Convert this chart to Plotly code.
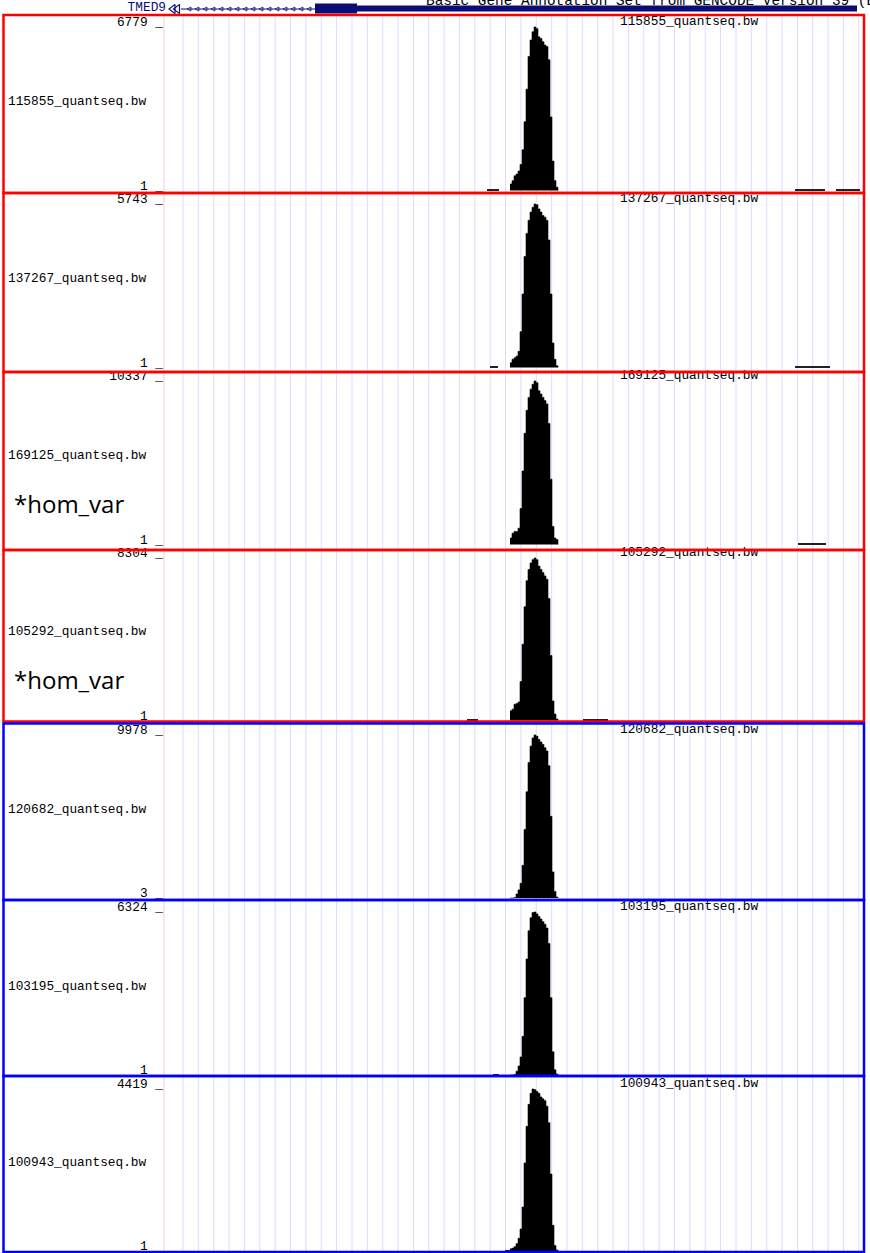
import numpy as np
import plotly.graph_objects as go

# ---------------------------------------------------------------- data
W, H = 870, 1253
REGION_END = 6950          # bp offset spanned by the data area
BIN_START, BIN_SIZE = 3450, 20

track_names = [
    "115855_quantseq.bw", "137267_quantseq.bw", "169125_quantseq.bw",
    "105292_quantseq.bw", "120682_quantseq.bw", "103195_quantseq.bw",
    "100943_quantseq.bw",
]
track_max = [6779, 5743, 10337, 8304, 9978, 6324, 4419]
track_min = [1, 1, 1, 1, 3, 1, 1]
track_group = ["red", "red", "red", "red", "blue", "blue", "blue"]
track_note = [None, None, "*hom_var", "*hom_var", None, None, None]

# coverage per 20 bp bin from BIN_START
cov_115855 = [270, 410, 610, 680, 810, 1080, 1690, 2850, 4200, 5560, 6240, 6580,
              6779, 6710, 6370, 6300, 6170, 6030, 5970, 5420, 3050, 1220, 410, 140]
cov_137267 = [170, 290, 340, 400, 570, 1260, 2580, 3900, 4710, 5170, 5460, 5630,
              5743, 5720, 5570, 5460, 5340, 5280, 5170, 4480, 2580, 860, 290, 60]
cov_169125 = [410, 720, 830, 830, 1030, 2270, 4650, 7030, 8480, 9300, 9820, 10130,
              10337, 10230, 9720, 9510, 9300, 9100, 8890, 7650, 4130, 1140, 410, 310]
cov_105292 = [500, 580, 830, 870, 950, 1990, 3900, 5810, 7140, 7720, 8050, 8220,
              8304, 8220, 7890, 7720, 7560, 7390, 7220, 6230, 3320, 1000, 330, 80]
cov_120682 = [0, 0, 30, 250, 500, 900, 2000, 4200, 6500, 8300, 9300, 9800,
              9978, 9900, 9700, 9550, 9400, 9200, 9000, 8100, 5000, 1600, 400, 60]
cov_103195 = [0, 0, 20, 150, 350, 700, 1500, 3000, 4500, 5600, 6100, 6300,
              6324, 6250, 6150, 6050, 5950, 5850, 5700, 5100, 3000, 900, 200, 40]
cov_100943 = [60, 80, 120, 200, 350, 600, 1200, 2400, 3400, 4000, 4300, 4419,
              4400, 4350, 4300, 4200, 4150, 4100, 3950, 3500, 2100, 700, 150, 30]
coverage = [cov_115855, cov_137267, cov_169125, cov_105292,
            cov_120682, cov_103195, cov_100943]

# scattered low-level signal: (start, end, value)
low_signal = [
    [(3220, 3340, 60), (6300, 6600, 50), (6710, 6950, 50)],
    [(3250, 3330, 50), (6300, 6650, 45)],
    [(6330, 6610, 80)],
    [(3020, 3130, 60), (4180, 4430, 60)],
    [],
    [(3280, 3340, 40)],
    [(3400, 3450, 40)],
]

# TMED9 gene model (bp offsets, minus strand)
gene_name = "TMED9"
intron = (160, 1500)
cds = (1500, 1920)
utr = (1920, 6920)
header_text = "Basic Gene Annotation Set from GENCODE Version 39 (Ensembl 105)"

# ---------------------------------------------------------------- layout helpers
RED, BLUE = "#ff0000", "#0000ff"
GRID = "#dcdcff"
FONT = "Liberation Mono"

box_top = [15, 193, 372, 550, 722.5, 900, 1076]
box_bot = [193, 372, 550, 722.5, 900, 1076, 1252]
top_px = [27, 204, 381, 558, 735, 912, 1089]             # pixel row of track max
base_px = [190.5, 367.5, 544.5, 720.5, 898, 1075, 1251]  # pixel row of track min

grid_pos = 180 + 153.6 * np.arange(45)
X_DOMAIN = [165 / W, 860 / W]

fig = go.Figure()
layout = {}

for i in range(7):
    sfx = "" if i == 0 else str(i + 1)
    vals = coverage[i]
    edges = [BIN_START + BIN_SIZE * k for k in range(len(vals) + 1)]
    # main coverage as a stepped filled profile
    fig.add_trace(go.Scatter(
        x=edges, y=list(vals) + [0], mode="lines", line_shape="hv",
        line=dict(color="black", width=0.6), fill="tozeroy", fillcolor="black",
        xaxis="x" + sfx, yaxis="y" + sfx, showlegend=False, hoverinfo="skip",
    ))
    if low_signal[i]:
        fig.add_trace(go.Bar(
            x=[(s + e) / 2 for s, e, v in low_signal[i]],
            y=[v for s, e, v in low_signal[i]],
            width=[e - s for s, e, v in low_signal[i]],
            marker=dict(color="#202020", line=dict(width=0)),
            xaxis="x" + sfx, yaxis="y" + sfx, showlegend=False, hoverinfo="skip",
        ))
    vmin, vmax = track_min[i], track_max[i]
    scale = (vmax - vmin) / (top_px[i] - base_px[i])
    lo = vmin + (box_bot[i] - base_px[i]) * scale
    hi = vmin + (box_top[i] - base_px[i]) * scale
    layout["xaxis" + sfx] = dict(domain=X_DOMAIN, range=[0, REGION_END], visible=False)
    layout["yaxis" + sfx] = dict(
        domain=[1 - box_bot[i] / H, 1 - box_top[i] / H], range=[lo, hi],
        visible=False,
    )

# gene track
NAVY = "#0c0c78"
gx, gy = "x8", "y8"
fig.add_trace(go.Scatter(x=list(intron), y=[9, 9], mode="lines",
                         line=dict(color=NAVY, width=1), xaxis=gx, yaxis=gy,
                         showlegend=False, hoverinfo="skip"))
arrow_x = list(np.arange(intron[0] + 60, intron[1], 80))
fig.add_trace(go.Scatter(x=arrow_x, y=[9] * len(arrow_x), mode="markers",
                         marker=dict(symbol="arrow-left-open", size=4, color=NAVY,
                                     line=dict(width=0.8, color=NAVY)),
                         xaxis=gx, yaxis=gy, showlegend=False, hoverinfo="skip",
                         cliponaxis=False))
fig.add_trace(go.Scatter(x=[80, 125], y=[9, 9], mode="markers",
                         marker=dict(symbol="triangle-left-open", size=8, color=NAVY,
                                     line=dict(width=1.2, color=NAVY)),
                         xaxis=gx, yaxis=gy, showlegend=False, hoverinfo="skip",
                         cliponaxis=False))
fig.add_trace(go.Scatter(x=list(utr), y=[8.5, 8.5], mode="lines",
                         line=dict(color=NAVY, width=6), xaxis=gx, yaxis=gy,
                         showlegend=False, hoverinfo="skip"))
fig.add_trace(go.Scatter(x=list(cds), y=[8.5, 8.5], mode="lines",
                         line=dict(color=NAVY, width=10), xaxis=gx, yaxis=gy,
                         showlegend=False, hoverinfo="skip"))
layout["xaxis8"] = dict(domain=X_DOMAIN, range=[0, REGION_END], visible=False)
layout["yaxis8"] = dict(domain=[1 - 15 / H, 1], range=[15, 0], visible=False)

# text layer in pixel space
tx, ty = "x9", "y9"
layout["xaxis9"] = dict(domain=[0, 1], range=[0, W], visible=False)
layout["yaxis9"] = dict(domain=[0, 1], range=[H, 0], visible=False)


def add_text(xv, yv, texts, pos, size=12.8, color="black", family=FONT):
    fig.add_trace(go.Scatter(
        x=xv, y=yv, text=texts, mode="text", textposition=pos,
        textfont=dict(family=family, size=size, color=color),
        xaxis=tx, yaxis=ty, showlegend=False, hoverinfo="skip", cliponaxis=False,
    ))


add_text([8] * 7, [(t + b) / 2 - 7 for t, b in zip(top_px, base_px)],
         track_names, "middle right")
add_text([620] * 7, [t - 5 for t in top_px], track_names, "middle right")
add_text([163] * 7, [t - 4 for t in top_px], [f"{v} _" for v in track_max], "middle left")
add_text([163] * 7, [b - 4 for b in base_px], [f"{v} _" for v in track_min], "middle left")
note_idx = [i for i, n in enumerate(track_note) if n]
add_text([14] * len(note_idx), [base_px[i] - 38 for i in note_idx],
         [track_note[i] for i in note_idx], "middle right", size=24,
         family="Open Sans")
add_text([166], [8], [gene_name], "middle left", color=NAVY)
add_text([426], [1], [header_text], "middle right", size=14.4)

# base-position guide lines (kept beneath the coverage), left guide and frames
shapes = [dict(type="line", xref="x", yref="paper", x0=g, x1=g,
               y0=1 - 1252 / H, y1=1 - 15 / H, line=dict(color=GRID, width=1),
               layer="below") for g in grid_pos]
shapes.append(dict(type="line", xref="paper", yref="paper", x0=164 / W, x1=164 / W,
                   y0=1 - 1252 / H, y1=1 - 15 / H, line=dict(color="#ffc8c8", width=1),
                   layer="below"))
for i in range(7):
    col = RED if track_group[i] == "red" else BLUE
    t = box_top[i] + (1 if i == 4 else 0)
    b = box_bot[i] - (1 if i == 3 else 0)
    shapes.append(dict(type="rect", xref="paper", yref="paper",
                       x0=3.5 / W, x1=864 / W, y0=1 - b / H, y1=1 - t / H,
                       line=dict(color=col, width=2.5), fillcolor="rgba(0,0,0,0)",
                       layer="above"))

fig.update_layout(
    width=W, height=H, margin=dict(l=0, r=0, t=0, b=0),
    paper_bgcolor="white", plot_bgcolor="rgba(0,0,0,0)",
    shapes=shapes, bargap=0, showlegend=False, **layout,
)
fig.write_html("out.html")
